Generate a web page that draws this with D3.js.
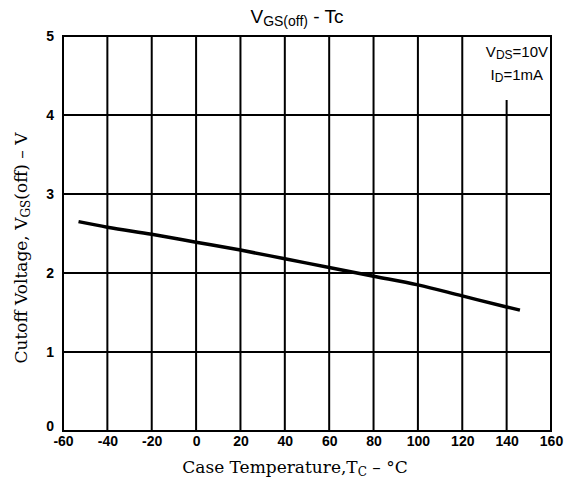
<!DOCTYPE html>
<html>
<head>
<meta charset="utf-8">
<script src="https://cdn.jsdelivr.net/npm/d3@7"></script>
<style>
  body { margin: 0; background: #fff; }
  .tick text { font-family: "Liberation Sans", Arial, sans-serif; font-weight: bold; font-size: 14px; fill: #000; }
</style>
</head>
<body>
<svg width="566" height="483"></svg>
<script>
// data
var temps = [-53, -40, -20, 0, 20, 40, 60, 80, 100, 120, 140, 146];
var vgsOff = [2.65, 2.58, 2.49, 2.39, 2.29, 2.18, 2.07, 1.96, 1.85, 1.71, 1.57, 1.53];
var xTicks = [-60, -40, -20, 0, 20, 40, 60, 80, 100, 120, 140, 160];
var yTicks = [0, 1, 2, 3, 4, 5];

var svg = d3.select("svg"),
    pLeft = 63, pRight = 551, pTop = 36, pBottom = 431;

var x = d3.scaleLinear().domain([-60, 160]).range([pLeft, pRight]),
    y = d3.scaleLinear().domain([0, 5]).range([pBottom, pTop]);

var grid = svg.append("g").attr("stroke", "#000").attr("stroke-width", 2);

// vertical grid, the 140 line stops under the condition note
grid.selectAll(".vx").data(xTicks.slice(1, -1)).enter().append("line")
    .attr("x1", function(d) { return x(d); }).attr("x2", function(d) { return x(d); })
    .attr("y1", function(d) { return d == 140 ? 100 : pTop; }).attr("y2", pBottom);

grid.selectAll(".hy").data(yTicks.slice(1, -1)).enter().append("line")
    .attr("x1", pLeft).attr("x2", pRight)
    .attr("y1", function(d) { return y(d); }).attr("y2", function(d) { return y(d); });

grid.append("rect").attr("x", pLeft).attr("y", pTop)
    .attr("width", pRight - pLeft).attr("height", pBottom - pTop).attr("fill", "none");

// axes only for labels
var xAxis = svg.append("g").attr("transform", "translate(0," + (pBottom + 2) + ")")
    .call(d3.axisBottom(x).tickValues(xTicks).tickSize(0).tickFormat(function(d) { return d < 0 ? "-" + (-d) : d; }));
xAxis.select(".domain").remove();

var yAxis = svg.append("g").attr("transform", "translate(" + (pLeft - 6) + ",0)")
    .call(d3.axisLeft(y).tickValues(yTicks).tickSize(0).tickFormat(d3.format("d")));
yAxis.select(".domain").remove();
yAxis.selectAll(".tick text").attr("dy", function(d) { return d == 0 ? "-0.05em" : "0.3em"; });

// curve
var line = d3.line().x(function(d) { return x(d[0]); }).y(function(d) { return y(d[1]); })
    .curve(d3.curveMonotoneX);
svg.append("path").datum(d3.zip(temps, vgsOff))
    .attr("d", line).attr("fill", "none").attr("stroke", "#000").attr("stroke-width", 3.5);

// title
var title = svg.append("text").attr("x", 297).attr("y", 23).attr("text-anchor", "middle")
    .style("font-family", "Liberation Sans, Arial, sans-serif").style("font-size", "19px");
title.append("tspan").text("V");
title.append("tspan").attr("dy", 3).style("font-size", "14px").text("GS(off)");
title.append("tspan").attr("dy", -3).text("  -  Tc");

// conditions note
var note = svg.append("g").style("font-family", "Liberation Sans, Arial, sans-serif")
    .style("font-size", "15px").attr("text-anchor", "end");
var n1 = note.append("text").attr("x", 548).attr("y", 57);
n1.append("tspan").text("V");
n1.append("tspan").attr("dy", 2).style("font-size", "12px").text("DS");
n1.append("tspan").attr("dy", -2).text("=10V");
var n2 = note.append("text").attr("x", 543).attr("y", 80);
n2.append("tspan").text("I");
n2.append("tspan").attr("dy", 2).style("font-size", "12px").text("D");
n2.append("tspan").attr("dy", -2).text("=1mA");

// axis titles
var xl = svg.append("text").attr("x", 295).attr("y", 473).attr("text-anchor", "middle")
    .style("font-family", "DejaVu Serif, serif").style("font-size", "17px");
xl.append("tspan").text("Case Temperature,T");
xl.append("tspan").attr("dy", 3).style("font-size", "12px").text("C");
xl.append("tspan").attr("dy", -3).text(" \u2013 \u00B0C");

var yl = svg.append("text").attr("transform", "translate(27,248) rotate(-90)").attr("text-anchor", "middle")
    .style("font-family", "DejaVu Serif, serif").style("font-size", "17px");
yl.append("tspan").text("Cutoff Voltage, V");
yl.append("tspan").attr("dy", 3).style("font-size", "12px").text("GS");
yl.append("tspan").attr("dy", -3).text("(off) \u2013 V");
</script>
</body>
</html>
